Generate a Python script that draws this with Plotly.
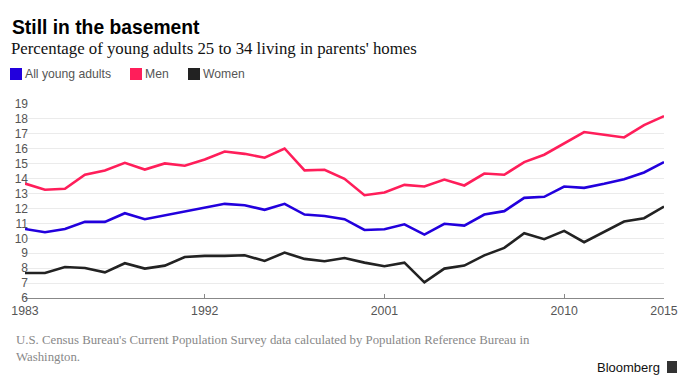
import plotly.graph_objects as go

years = list(range(1983, 2016))
all_young = [10.63, 10.41, 10.63, 11.10, 11.10, 11.68, 11.28, 11.55, 11.82, 12.04,
             12.31, 12.22, 11.91, 12.31, 11.59, 11.50, 11.28, 10.56, 10.61, 10.94,
             10.25, 10.97, 10.85, 11.59, 11.82, 12.71, 12.78, 13.47, 13.38, 13.65,
             13.96, 14.41, 15.11]
men = [13.67, 13.25, 13.32, 14.26, 14.55, 15.06, 14.61, 15.02, 14.86, 15.28,
       15.82, 15.66, 15.40, 16.02, 14.55, 14.59, 13.99, 12.89, 13.07, 13.58,
       13.47, 13.94, 13.54, 14.34, 14.26, 15.11, 15.60, 16.36, 17.12, 16.94,
       16.76, 17.59, 18.19]
women = [7.68, 7.68, 8.08, 8.01, 7.72, 8.33, 7.97, 8.17, 8.75, 8.82,
         8.82, 8.86, 8.48, 9.04, 8.62, 8.46, 8.68, 8.37, 8.13, 8.37,
         7.05, 7.97, 8.17, 8.86, 9.36, 10.34, 9.94, 10.50, 9.74, 10.41,
         11.12, 11.35, 12.13]

series_names = ["All young adults", "Men", "Women"]
series_values = [all_young, men, women]
series_colors = ["#2200dd", "#ff1e5a", "#222222"]

x_ticks = [1983, 1992, 2001, 2010, 2015]
y_ticks = list(range(6, 20))
y_tick_text = [("\u2007" + str(v)) if v < 10 else str(v) for v in y_ticks]

title = "Still in the basement"
subtitle = "Percentage of young adults 25 to 34 living in parents' homes"
source = ("U.S. Census Bureau's Current Population Survey data calculated by Population Reference Bureau in"
          "<br>Washington.")

W, H = 700, 386
L, R, T, B = 25, 36, 104, 88
PW, PH = W - L - R, H - T - B


def px(x):
    return (x - L) / PW


def py(y):
    return (H - B - y) / PH


fig = go.Figure()
for name, vals, col in zip(series_names, series_values, series_colors):
    fig.add_trace(go.Scatter(x=years, y=vals, mode="lines", name=name,
                             line=dict(color=col, width=2.6), showlegend=False))

sans = "Liberation Sans, Arial, sans-serif"
serif = "Liberation Serif, Times New Roman, serif"

annotations = [
    dict(text="<b>" + title + "</b>", x=px(9.5), y=py(27), xanchor="left", yanchor="middle",
         font=dict(family=sans, size=19.3, color="#000000")),
    dict(text=subtitle, x=px(9), y=py(49), xanchor="left", yanchor="middle",
         font=dict(family=serif, size=16.8, color="#111111")),
    dict(text=source, x=px(14), y=py(348), xanchor="left", yanchor="middle", align="left",
         font=dict(family=serif, size=12.8, color="#888888")),
    dict(text="Bloomberg", x=px(662), y=py(367), xanchor="right", yanchor="middle",
         font=dict(family=sans, size=13, color="#111111")),
]

shapes = []
legend_x = [10, 130, 188]
for lx, name, col in zip(legend_x, series_names, series_colors):
    shapes.append(dict(type="rect", xref="paper", yref="paper",
                       x0=px(lx), x1=px(lx + 12), y0=py(80), y1=py(68),
                       fillcolor=col, line=dict(width=0)))
    annotations.append(dict(text=name, x=px(lx + 13), y=py(74), xanchor="left", yanchor="middle",
                            font=dict(family=sans, size=12.2, color="#555555")))

# Bloomberg logo mark
shapes.append(dict(type="rect", xref="paper", yref="paper",
                   x0=px(667), x1=px(677), y0=py(373), y1=py(361),
                   fillcolor="#333333", line=dict(width=0)))

for a in annotations:
    a.update(xref="paper", yref="paper", showarrow=False)

fig.update_layout(
    width=W, height=H,
    margin=dict(l=L, r=R, t=T, b=B, pad=0),
    paper_bgcolor="white", plot_bgcolor="white",
    annotations=annotations, shapes=shapes,
    xaxis=dict(range=[1983, 2015], tickvals=x_ticks, ticktext=[str(v) for v in x_ticks],
               showgrid=False, zeroline=False, showline=True, linecolor="#888888", linewidth=1,
               ticks="inside", ticklen=4, tickcolor="#888888", ticklabelstandoff=1,
               tickfont=dict(family=sans, size=12.3, color="#555555")),
    yaxis=dict(range=[6, 19], tickvals=y_ticks, ticktext=y_tick_text,
               showgrid=True, gridcolor="#ebebeb", gridwidth=1, zeroline=False,
               showline=False, ticks="", ticklabelstandoff=-4,
               tickfont=dict(family=sans, size=12, color="#555555")),
)

fig.write_html("out.html", config={"displayModeBar": False},
               post_script="document.body.style.margin='0';")
